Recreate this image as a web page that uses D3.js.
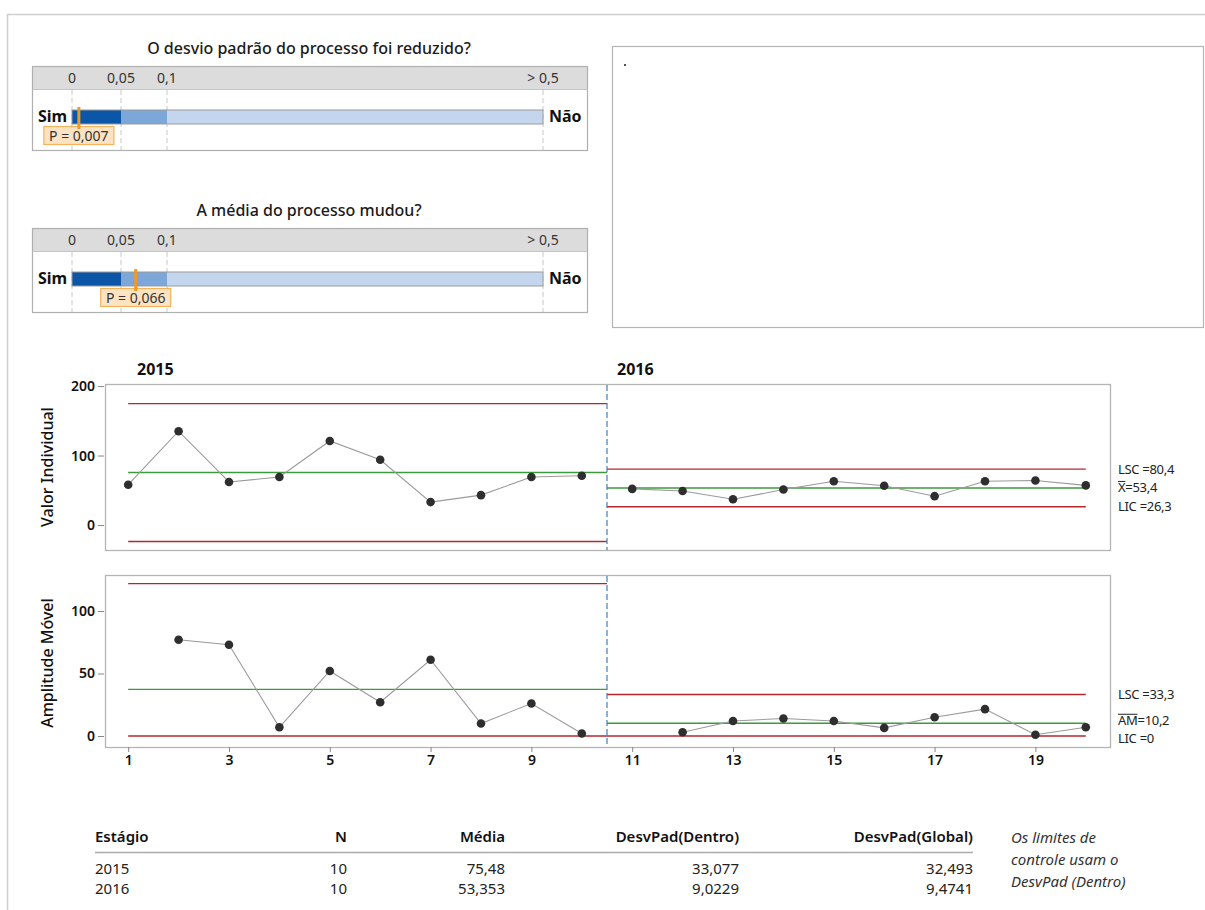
<!DOCTYPE html>
<html>
<head>
<meta charset="utf-8">
<script src="https://cdn.jsdelivr.net/npm/d3@7"></script>
<style>
  body { margin: 0; background: #fff; }
  svg { display: block; font-family: "Noto Sans", "Open Sans", sans-serif; }
</style>
</head>
<body>
<svg id="chart" width="1205" height="910"></svg>
<script>
// ---- data ----
const stages = ["2015", "2016"];
const individuals2015 = [58, 135, 62, 69, 121, 94, 33, 43, 69, 71];
const individuals2016 = [52, 49, 37, 51, 63, 56.5, 41.5, 63, 64, 57];
const stageN = [10, 10];
const stageMean = [75.48, 53.353];
const sdWithin = [33.077, 9.0229];
const sdOverall = [32.493, 9.4741];

const testQuestions = ["O desvio padrão do processo foi reduzido?", "A média do processo mudou?"];
const testPValues = [0.007, 0.066];
const pTicks = [0, 0.05, 0.1, 0.5];
const pTickLabels = ["0", "0,05", "0,1", "> 0,5"];

const iTicks = [0, 100, 200];
const mrTicks = [0, 50, 100];
const obsTicks = [1, 3, 5, 7, 9, 11, 13, 15, 17, 19];

const tableHeaders = ["Estágio", "N", "Média", "DesvPad(Dentro)", "DesvPad(Global)"];
const noteLines = ["Os limites de", "controle usam o", "DesvPad (Dentro)"];

// ---- helpers ----
const ptLocale = d3.formatLocale({ decimal: ",", thousands: ".", grouping: [3], currency: ["", ""] });
const f1 = ptLocale.format(".1f");
const fP = ptLocale.format(".3f");
const fmtPlain = v => String(v).replace(".", ",");

const svg = d3.select("#chart");
const RED = "#b3282d", GREEN = "#3c9a3c", BLUE_SEP = "#3f7dc8";

// page frame
svg.append("path").attr("d", "M7.5,910 V14.5 H1205").attr("fill", "none").attr("stroke", "#cfcfcf").attr("stroke-width", 1.5);

// ---- p-value panels ----
const pScale = d3.scaleLinear().domain(pTicks).range([72, 121, 167, 543]);
const panelTops = [66, 228];
const segColors = ["#0b56a6", "#7ea7d9", "#c4d6ed"];

testQuestions.forEach((q, i) => {
  const top = panelTops[i];
  const g = svg.append("g");
  g.append("text").attr("x", 309).attr("y", top - 12).attr("text-anchor", "middle")
    .attr("font-size", 16).attr("font-weight", 500).attr("fill", "#1a1a1a").text(q);
  g.append("rect").attr("x", 32.5).attr("y", top + 0.5).attr("width", 555).attr("height", 23)
    .attr("fill", "#dcdcdc");
  g.append("rect").attr("x", 32.5).attr("y", top + 0.5).attr("width", 555).attr("height", 84)
    .attr("fill", "none").attr("stroke", "#b0b0b0").attr("stroke-width", 1.2);
  g.append("line").attr("x1", 32.5).attr("x2", 587.5).attr("y1", top + 23.5).attr("y2", top + 23.5)
    .attr("stroke", "#c4c4c4");
  pTicks.forEach((t, k) => {
    g.append("text").attr("x", pScale(t)).attr("y", top + 17).attr("text-anchor", "middle")
      .attr("font-size", 14).attr("fill", "#333").text(pTickLabels[k]);
    g.append("line").attr("x1", pScale(t)).attr("x2", pScale(t)).attr("y1", top + 24).attr("y2", top + 84)
      .attr("stroke", "#c8c8c8").attr("stroke-dasharray", "5,3");
  });
  const barY = top + 44, barH = 14;
  for (let k = 0; k < 3; k++) {
    g.append("rect").attr("x", pScale(pTicks[k])).attr("y", barY)
      .attr("width", pScale(pTicks[k + 1]) - pScale(pTicks[k])).attr("height", barH)
      .attr("fill", segColors[k]);
  }
  g.append("rect").attr("x", pScale(0)).attr("y", barY).attr("width", pScale(0.5) - pScale(0)).attr("height", barH)
    .attr("fill", "none").attr("stroke", "#9a9a9a").attr("stroke-width", 1);
  g.append("text").attr("x", 38).attr("y", barY + 12).attr("font-size", 16).attr("font-weight", 700)
    .attr("fill", "#111").text("Sim");
  g.append("text").attr("x", 549).attr("y", barY + 12).attr("font-size", 16).attr("font-weight", 700)
    .attr("fill", "#111").text("Não");
  const px = pScale(testPValues[i]);
  const lbl = "P = " + fP(testPValues[i]);
  const lw = 70 + (lbl.length - 9) * 4;
  g.append("rect").attr("x", px - lw / 2).attr("y", barY + barH + 2.5).attr("width", lw).attr("height", 18)
    .attr("fill", "#fde3c2").attr("stroke", "#f4b25c").attr("stroke-width", 1.2);
  g.append("text").attr("x", px).attr("y", barY + barH + 16.5).attr("text-anchor", "middle")
    .attr("font-size", 14).attr("fill", "#333").text(lbl);
  g.append("line").attr("x1", px).attr("x2", px).attr("y1", barY - 3).attr("y2", barY + barH + 5)
    .attr("stroke", "#f29a1f").attr("stroke-width", 3);
});

// empty side box
svg.append("rect").attr("x", 612.5).attr("y", 46.5).attr("width", 591).attr("height", 281)
  .attr("fill", "none").attr("stroke", "#b4b4b4").attr("stroke-width", 1.2);
svg.append("rect").attr("x", 624).attr("y", 64).attr("width", 2).attr("height", 2).attr("fill", "#555");

// ---- control charts ----
const values = individuals2015.concat(individuals2016);
const stageOf = i => (i < individuals2015.length ? 0 : 1);
const points = values.map((v, i) => ({ obs: i + 1, v, stage: stageOf(i) }));
const mrPoints = points.filter((p, i) => i > 0 && stageOf(i - 1) === p.stage)
  .map(p => ({ obs: p.obs, v: Math.abs(p.v - values[p.obs - 2]), stage: p.stage }));

const limits = stages.map((s, k) => {
  const mrBar = 1.128 * sdWithin[k];
  return {
    mean: stageMean[k], ucl: stageMean[k] + 3 * sdWithin[k], lcl: stageMean[k] - 3 * sdWithin[k],
    mrBar, mrUcl: 3.267 * mrBar, mrLcl: 0
  };
});

const plotL = 105, plotR = 1110;
const x = d3.scaleLinear().domain([0.54, 20.48]).range([plotL, plotR]);
const splitX = x(individuals2015.length + 0.5);
const stageSpan = k => k === 0 ? [x(1), splitX] : [splitX, x(values.length)];

function drawChart(cfg) {
  const { top, bottom, y, ticks, data, lines, title, titleY } = cfg;
  const g = svg.append("g");
  g.append("rect").attr("x", plotL + 0.5).attr("y", top + 0.5).attr("width", plotR - plotL).attr("height", bottom - top)
    .attr("fill", "none").attr("stroke", "#b4b4b4").attr("stroke-width", 1.3);
  const ax = g.append("g").attr("transform", `translate(${plotL - 1},0)`)
    .call(d3.axisLeft(y).tickValues(ticks).tickSize(6).tickPadding(3).tickFormat(d3.format("d")));
  ax.select(".domain").remove();
  ax.selectAll("line").attr("stroke", "#888");
  ax.selectAll("text").attr("font-size", 14).attr("font-weight", 600).attr("fill", "#111")
    .attr("font-family", "'Noto Sans', sans-serif");
  g.append("text").attr("transform", `translate(${53},${titleY}) rotate(-90)`).attr("text-anchor", "middle")
    .attr("font-size", 16).attr("font-weight", 500).attr("fill", "#111").text(title);

  stages.forEach((s, k) => {
    const [a, b] = stageSpan(k);
    lines(k).forEach(l => {
      g.append("line").attr("x1", a).attr("x2", b).attr("y1", y(l.v)).attr("y2", y(l.v))
        .attr("stroke", l.c).attr("stroke-width", 1.4);
    });
    const seg = data.filter(d => d.stage === k);
    g.append("path").datum(seg)
      .attr("d", d3.line().x(d => x(d.obs)).y(d => y(d.v)))
      .attr("fill", "none").attr("stroke", "#9a9a9a").attr("stroke-width", 1.1);
    g.selectAll(null).data(seg).join("circle")
      .attr("cx", d => x(d.obs)).attr("cy", d => y(d.v)).attr("r", 4.3).attr("fill", "#2e2e2e");
  });
  g.append("line").attr("x1", splitX).attr("x2", splitX).attr("y1", top + 1).attr("y2", bottom)
    .attr("stroke", BLUE_SEP).attr("stroke-width", 1.2).attr("stroke-dasharray", "6,3");
  return g;
}

const yI = d3.scaleLinear().domain([-36, 203]).range([550, 384]);
drawChart({
  top: 384, bottom: 550, y: yI, ticks: iTicks, data: points, title: "Valor Individual", titleY: 467,
  lines: k => [{ v: limits[k].ucl, c: RED }, { v: limits[k].lcl, c: RED }, { v: limits[k].mean, c: GREEN }]
});
stages.forEach((s, k) => {
  svg.append("text").attr("x", k === 0 ? 137 : 617).attr("y", 375).attr("font-size", 16)
    .attr("font-weight", 700).attr("fill", "#111").text(s);
});

const yMR = d3.scaleLinear().domain([-8.8, 128.8]).range([747, 575]);
const gMR = drawChart({
  top: 575, bottom: 747, y: yMR, ticks: mrTicks, data: mrPoints, title: "Amplitude Móvel", titleY: 663,
  lines: k => [{ v: limits[k].mrUcl, c: RED }, { v: limits[k].mrLcl, c: RED }, { v: limits[k].mrBar, c: GREEN }]
});
const xAx = gMR.append("g").attr("transform", `translate(0,${747})`)
  .call(d3.axisBottom(x).tickValues(obsTicks).tickSize(5).tickPadding(3).tickFormat(d3.format("d")));
xAx.select(".domain").remove();
xAx.selectAll("line").attr("stroke", "#888");
xAx.selectAll("text").attr("font-size", 14).attr("font-weight", 600).attr("fill", "#111")
  .attr("font-family", "'Noto Sans', sans-serif");

// limit labels for the last stage
const last = limits[limits.length - 1];
function limitLabel(yPos, prefix, value, overline) {
  const t = svg.append("text").attr("x", 1118).attr("y", yPos + 4.5).attr("font-size", 13)
    .attr("letter-spacing", -0.3).attr("fill", "#222");
  const p = t.append("tspan").text(prefix);
  t.append("tspan").text(value);
  if (overline) {
    const w = p.node().getComputedTextLength();
    svg.append("line").attr("x1", 1118).attr("x2", 1118 + w).attr("y1", yPos - 6.5).attr("y2", yPos - 6.5)
      .attr("stroke", "#222").attr("stroke-width", 1);
  }
}
limitLabel(yI(last.ucl), "LSC", " =" + f1(last.ucl));
limitLabel(yI(last.mean), "X", "=" + f1(last.mean), true);
limitLabel(yI(last.lcl), "LIC", " =" + f1(last.lcl));
limitLabel(yMR(last.mrUcl), "LSC", " =" + f1(last.mrUcl));
limitLabel(yMR(last.mrBar) - 2.5, "AM", "=" + f1(last.mrBar), true);
limitLabel(yMR(last.mrLcl) + 2.5, "LIC", " =" + last.mrLcl);

// ---- summary table ----
const colX = [95, 347, 505, 739, 973];
const colAnchor = ["start", "end", "end", "end", "end"];
const rows = stages.map((s, k) => [s, String(stageN[k]), fmtPlain(stageMean[k]), fmtPlain(sdWithin[k]), fmtPlain(sdOverall[k])]);
tableHeaders.forEach((h, c) => {
  svg.append("text").attr("x", colX[c]).attr("y", 842).attr("text-anchor", colAnchor[c])
    .attr("font-size", 15).attr("font-weight", 600).attr("fill", "#111").text(h);
});
svg.append("line").attr("x1", 95).attr("x2", 973).attr("y1", 852.5).attr("y2", 852.5)
  .attr("stroke", "#aaaaaa").attr("stroke-width", 1.5);
rows.forEach((r, ri) => {
  r.forEach((cell, c) => {
    svg.append("text").attr("x", colX[c]).attr("y", 874 + ri * 20).attr("text-anchor", colAnchor[c])
      .attr("font-size", 15).attr("fill", "#222").text(cell);
  });
});
noteLines.forEach((l, i) => {
  svg.append("text").attr("x", 1011).attr("y", 843 + i * 22).attr("font-size", 15).attr("font-style", "italic")
    .attr("fill", "#333").text(l);
});
</script>
</body>
</html>
